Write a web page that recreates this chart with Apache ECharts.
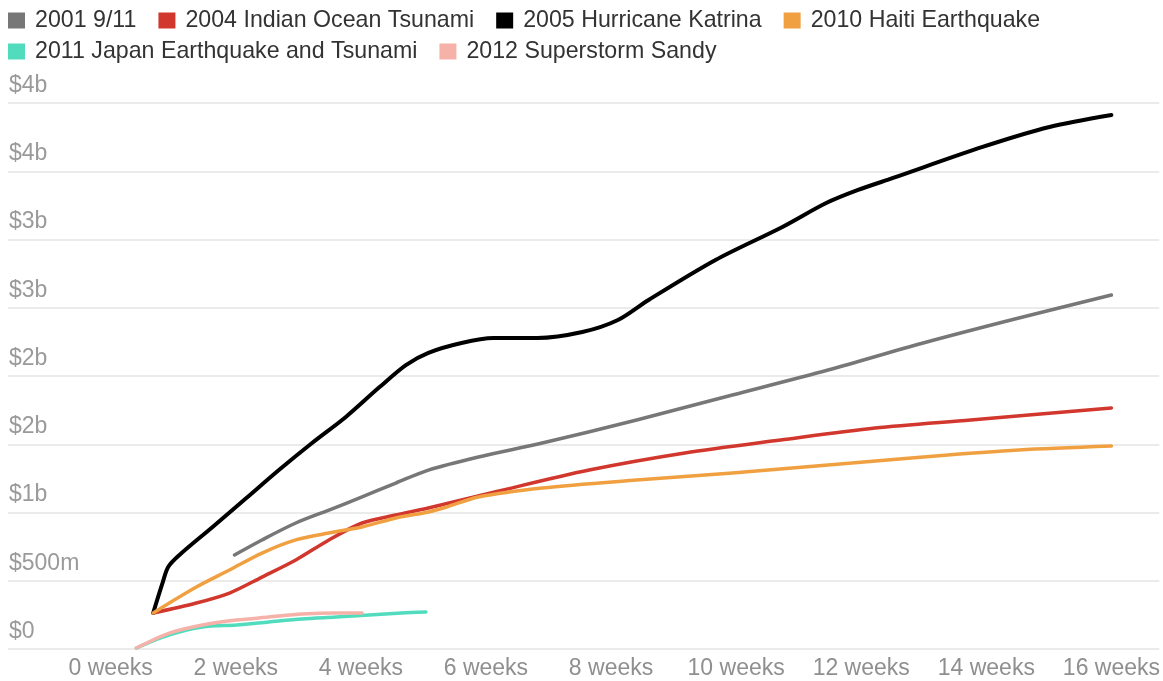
<!DOCTYPE html>
<html>
<head>
<meta charset="utf-8">
<script src="https://cdn.jsdelivr.net/npm/echarts@6/dist/echarts.min.js"></script>
<style>
  html, body { margin: 0; padding: 0; background: #fff; }
  #chart { width: 1163px; height: 681px; }
</style>
</head>
<body>
<div id="chart"></div>
<script>
// Cumulative donations after each disaster (USD millions), by weeks since the event.
const seriesNames = [
  '2001 9/11',
  '2004 Indian Ocean Tsunami',
  '2005 Hurricane Katrina',
  '2010 Haiti Earthquake',
  '2011 Japan Earthquake and Tsunami',
  '2012 Superstorm Sandy'
];
const seriesColors = ['#777777', '#d2372d', '#000000', '#f0a040', '#52dcbe', '#f6b1a9'];

const xTickWeeks = [0, 2, 4, 6, 8, 10, 12, 14, 16];

const weeks911 = [1.98, 2.42, 2.96, 3.49, 4.02, 4.56, 5.08, 5.88, 6.90, 8.41, 9.94, 11.47, 12.99, 14.52, 16.0];
const values911 = [689, 799, 923, 1018, 1114, 1216, 1311, 1407, 1509, 1678, 1861, 2044, 2242, 2425, 2593];

const weeksTsunami = [0.68, 1.37, 1.90, 2.42, 2.96, 3.49, 4.02, 4.56, 5.08, 6.14, 7.65, 9.18, 10.71, 12.22, 13.75, 16.0];
const valuesTsunami = [264, 337, 410, 527, 652, 799, 923, 982, 1033, 1150, 1311, 1436, 1531, 1619, 1678, 1766];

const weeksKatrina = [0.68, 0.83, 0.92, 1.10, 1.63, 2.17, 2.69, 3.22, 3.76, 4.29, 4.72, 5.08, 5.61, 6.12, 6.82, 7.54, 8.11, 8.60, 9.67, 10.74, 11.44, 11.95, 12.51, 13.94, 15.01, 16.0];
const valuesKatrina = [264, 484, 601, 689, 894, 1106, 1311, 1509, 1700, 1915, 2080, 2170, 2242, 2278, 2278, 2322, 2410, 2557, 2850, 3092, 3267, 3363, 3451, 3678, 3824, 3912];

const weeksHaiti = [0.68, 1.37, 1.90, 2.42, 2.96, 3.49, 4.02, 4.56, 5.08, 5.37, 5.88, 6.90, 8.41, 9.94, 11.47, 12.99, 14.52, 16.0];
const valuesHaiti = [264, 454, 579, 703, 799, 850, 894, 960, 1004, 1040, 1114, 1180, 1238, 1289, 1348, 1407, 1458, 1487];

const weeksJapan = [0.41, 0.94, 1.47, 2.01, 2.53, 3.06, 3.60, 4.13, 4.65, 5.04];
const valuesJapan = [7, 103, 161, 176, 198, 220, 234, 249, 264, 271];

const weeksSandy = [0.41, 0.94, 1.47, 2.01, 2.53, 3.06, 3.60, 4.02];
const valuesSandy = [7, 117, 176, 212, 234, 256, 264, 264];

const seriesWeeks = [weeks911, weeksTsunami, weeksKatrina, weeksHaiti, weeksJapan, weeksSandy];
const seriesValues = [values911, valuesTsunami, valuesKatrina, valuesHaiti, valuesJapan, valuesSandy];
const lineWidths = [3.5, 3.5, 4, 3.5, 3.5, 3.5];

const FONT = '"Liberation Sans", Arial, sans-serif';

function moneyLabel(v) {
  if (v === 0) return '$0';
  if (v < 1000) return '$' + v + 'm';
  return '$' + Math.round(v / 1000) + 'b';
}

const chart = echarts.init(document.getElementById('chart'), null, { renderer: 'canvas' });

chart.setOption({
  animation: false,
  backgroundColor: '#ffffff',
  textStyle: { fontFamily: FONT },
  color: seriesColors,
  legend: {
    left: 8,
    top: 9,
    width: 1110,
    padding: 0,
    itemWidth: 17,
    itemHeight: 16,
    itemGap: 8,
    icon: 'rect',
    data: seriesNames,
    textStyle: {
      fontFamily: FONT,
      fontSize: 23.2,
      color: '#333333',
      lineHeight: 22,
      padding: [0, 14, 0, 5]
    }
  },
  grid: { left: 8, right: 0, top: 103, bottom: 32, containLabel: false },
  xAxis: {
    type: 'value',
    min: -1.641,
    max: 16.765,
    axisLine: { show: false },
    axisTick: { show: false },
    splitLine: { show: false },
    axisLabel: {
      customValues: xTickWeeks,
      formatter: v => v + ' weeks',
      color: '#8f8f8f',
      fontFamily: FONT,
      fontSize: 23,
      margin: 8
    }
  },
  yAxis: {
    type: 'value',
    min: 0,
    max: 4000,
    interval: 500,
    axisLine: { show: false },
    axisTick: { show: false },
    splitLine: { show: true, lineStyle: { color: '#e4e4e4', width: 1.5 } },
    axisLabel: {
      inside: true,
      formatter: moneyLabel,
      color: '#9a9a9a',
      fontFamily: FONT,
      fontSize: 23,
      verticalAlign: 'bottom',
      align: 'left',
      margin: 1,
      padding: [0, 0, 6, 0]
    }
  },
  series: seriesNames.map((name, i) => ({
    name: name,
    type: 'line',
    showSymbol: false,
    smooth: 0.3,
    data: seriesWeeks[i].map((w, j) => [w, seriesValues[i][j]]),
    lineStyle: { width: lineWidths[i], color: seriesColors[i], cap: 'round', join: 'round' },
    itemStyle: { color: seriesColors[i] },
    emphasis: { disabled: true }
  }))
});
</script>
</body>
</html>
